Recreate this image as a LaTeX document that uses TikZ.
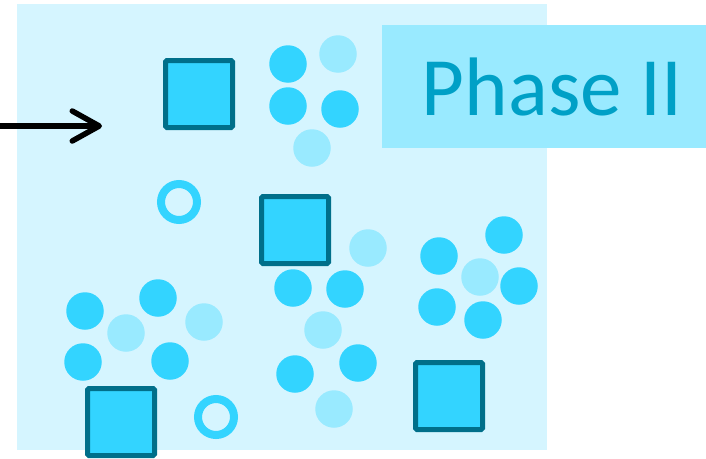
\documentclass[tikz,border=0pt]{standalone}
\usepackage{fontspec}
\setmainfont{Carlito}
\usetikzlibrary{arrows.meta}
\definecolor{paneblue}{HTML}{D5F5FF}
\definecolor{cellblue}{HTML}{33D4FF}
\definecolor{paleblue}{HTML}{99EAFF}
\definecolor{edgeteal}{HTML}{006F8A}
\definecolor{titleblue}{HTML}{00A0C6}
\begin{document}
\begin{tikzpicture}[x=1pt,y=-1pt,
  cell/.style={circle,fill=cellblue,minimum size=37.5pt,inner sep=0pt},
  palecell/.style={circle,fill=paleblue,minimum size=37.5pt,inner sep=0pt},
  block/.style={rectangle,draw=edgeteal,line width=5pt,fill=cellblue,rounded corners=1.5pt,minimum size=67pt,inner sep=0pt},
  ring/.style={circle,draw=cellblue,line width=8pt,minimum size=36pt,inner sep=0pt},
  titlebox/.style={rectangle,fill=paleblue,text=titleblue,font=\fontsize{83}{83}\selectfont,inner sep=0pt}]
\useasboundingbox (0,0) rectangle (706,458);
\clip (0,0) rectangle (706,458);
\fill[paneblue] (17,4) rectangle (547,450);

\node[titlebox,minimum width=340pt,minimum height=123pt,anchor=north west] (title) at (382,25) {Phase II};

% einfahrt
\coordinate (in) at (0,126);
\coordinate (intip) at (102,126);
\draw[line width=5.5pt,-{Straight Barb[length=27pt,width=30pt,line cap=round,line join=round]}] (in)--(intip);

% bloecke
\node[block] (b1) at (199,94) {};
\node[block] (b2) at (295,230) {};
\node[block] (b3) at (121,422) {};
\node[block] (b4) at (449,396) {};

% ringe
\node[ring] (r1) at (179,202) {};
\node[ring] (r2) at (216,417) {};

% zellen
\foreach \name/\x/\y in {t1/288/64,t2/288/106,t3/340/109,
                         m1/293/288,m2/345/289,m3/358/363,m4/295/374,
                         k1/439/256,k2/504/235,k3/519/286,k4/437/307,k5/483/320,
                         l1/85/311,l2/158/298,l3/83/362,l4/170/361}
  \node[cell] (\name) at (\x,\y) {};
\foreach \name/\x/\y in {tp1/338/54,tp2/312/148,
                         mp1/368/248,mp2/323/330,mp3/334/409,
                         kp1/480/277,
                         lp1/126/333,lp2/204/322}
  \node[palecell] (\name) at (\x,\y) {};
\end{tikzpicture}
\end{document}
